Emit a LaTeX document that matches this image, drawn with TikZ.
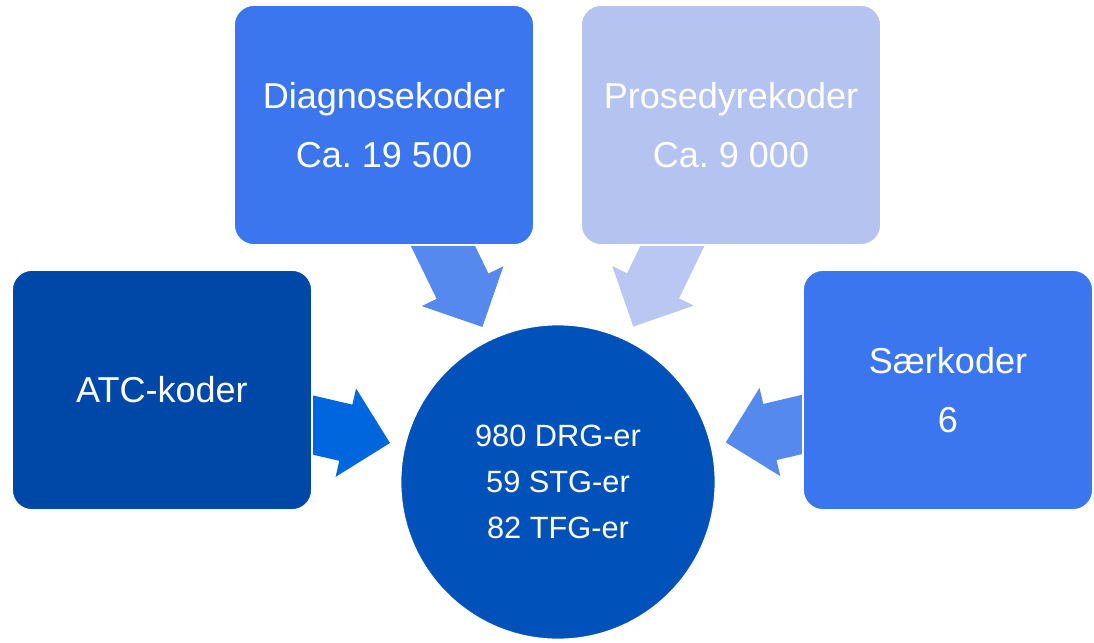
\documentclass[tikz,border=0pt]{standalone}
\usepackage{fontspec}
\setmainfont{Liberation Sans}
\usepackage[dvipsnames,svgnames]{xcolor}
\usepackage{tikz}
\usetikzlibrary{positioning, shapes.arrows, backgrounds}

\definecolor{atcblue}{HTML}{0048A8}
\definecolor{atcarrow}{HTML}{0066DD}
\definecolor{diagblue}{HTML}{3B76EE}
\definecolor{diagarrow}{HTML}{5689EE}
\definecolor{prosblue}{HTML}{B4C3F0}
\definecolor{prosarrow}{HTML}{BAC7F3}
\definecolor{hubblue}{HTML}{0052BA}

\frenchspacing

\begin{document}
\begin{tikzpicture}[node distance=2cm, on grid,
    codebox/.style={rectangle, rounded corners=0.4cm, draw=white, line width=1pt,
      minimum width=6cm, minimum height=4.8cm, align=center, text=white,
      font=\fontsize{20.5pt}{34pt}\selectfont},
    hub/.style={circle, draw=white, line width=1pt, minimum size=6.3cm, align=center,
      text=white, fill=hubblue, font=\fontsize{17.5pt}{26pt}\selectfont},
    feed/.style={single arrow, minimum height=2.6cm, inner xsep=0pt, inner ysep=0.57cm,
      single arrow head extend=0.33cm, sloped, allow upside down, anchor=tip}]
   \useasboundingbox (-11.16,-3.2) rectangle (10.72,9.64);

   % kodeverk rundt grupperingen
   \node[hub] (drg) at (0,0) {980 DRG-er\\59 STG-er\\82 TFG-er};
   \node[codebox, fill=atcblue] (atc) [above left=1.84cm and 7.92cm of drg] {ATC-koder};
   \node[codebox, fill=diagblue] (diag) [above left=7.14cm and 3.48cm of drg] {Diagnosekoder\\Ca. 19 500};
   \node[codebox, fill=prosblue] (pros) [above right=7.14cm and 3.46cm of drg] {Prosedyrekoder\\Ca. 9 000};
   \node[codebox, fill=diagblue, minimum width=5.8cm] (saer) [above right=1.84cm and 7.8cm of drg] {Særkoder\\6};

   % piler inn mot sirkelen
   \begin{scope}[on background layer]
   \path (atc.center) -- node[feed, fill=atcarrow, pos=.577] (atcfeed) {} (drg.center);
   \path (diag.center) -- node[feed, fill=diagarrow, pos=.567] (diagfeed) {} (drg.center);
   \path (pros.center) -- node[feed, fill=prosarrow, pos=.566] (prosfeed) {} (drg.center);
   \path (saer.center) -- node[feed, fill=diagarrow, pos=.571] (saerfeed) {} (drg.center);
   \end{scope}
\end{tikzpicture}
\end{document}
